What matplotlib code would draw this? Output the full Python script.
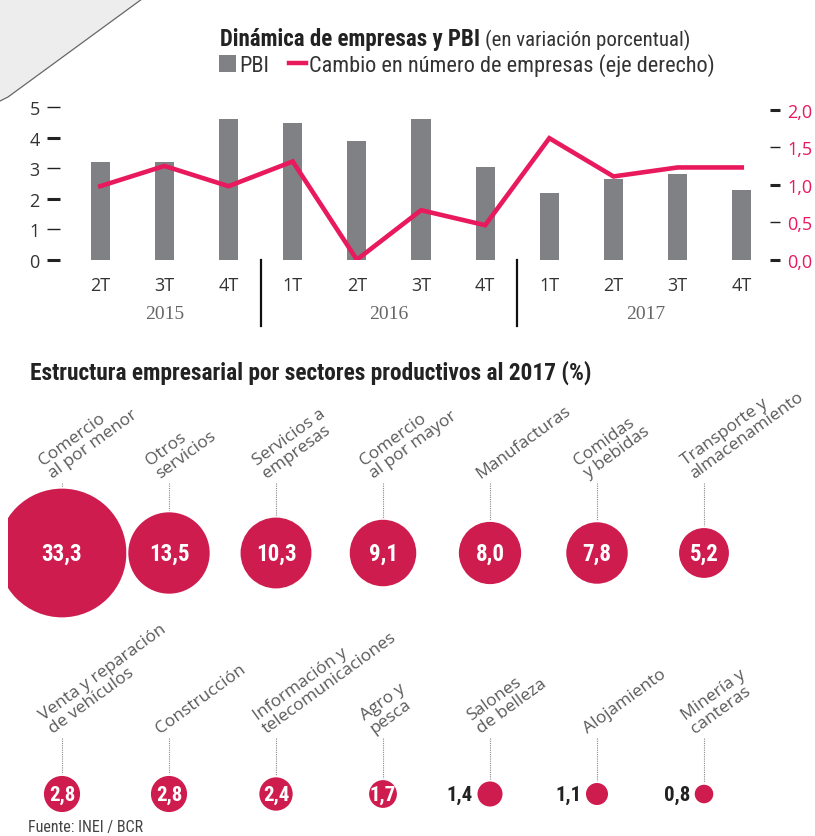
import matplotlib
matplotlib.use('Agg')
import matplotlib.pyplot as plt
from matplotlib import font_manager as fm
from matplotlib.patches import Patch, Polygon
from matplotlib.lines import Line2D
import matplotlib.transforms as mtransforms
import numpy as np

# ---------------- data ----------------
quarters = ['2T', '3T', '4T', '1T', '2T', '3T', '4T', '1T', '2T', '3T', '4T']
years = ['2015', '2016', '2017']
quarters_per_year = [3, 4, 4]
pbi = [3.2, 3.2, 4.6, 4.5, 3.9, 4.6, 3.05, 2.2, 2.65, 2.8, 2.3]
empresas = [0.98, 1.25, 0.98, 1.31, 0.0, 0.66, 0.46, 1.62, 1.11, 1.23, 1.23]
left_ticks = [0, 1, 2, 3, 4, 5]
right_ticks = [0.0, 0.5, 1.0, 1.5, 2.0]

sectors_row1 = ['Comercio\nal por menor', 'Otros\nservicios', 'Servicios a\nempresas',
                'Comercio\nal por mayor', 'Manufacturas', 'Comidas\ny bebidas',
                'Transporte y\nalmacenamiento']
shares_row1 = [33.3, 13.5, 10.3, 9.1, 8.0, 7.8, 5.2]
sectors_row2 = ['Venta y reparación\nde vehículos', 'Construcción',
                'Información y\ntelecomunicaciones', 'Agro y\npesca',
                'Salones\nde belleza', 'Alojamiento', 'Minería y\ncanteras']
shares_row2 = [2.8, 2.8, 2.4, 1.7, 1.4, 1.1, 0.8]

# ---------------- style ----------------
GREY = '#808184'
RED = '#e8195c'
BUB = '#cf1c4f'
names = {f.name for f in fm.fontManager.ttflist}


def pick(*cands):
    for n in cands:
        if n in names:
            return n
    return 'DejaVu Sans'


NARROW = pick('Liberation Sans Narrow', 'Roboto Condensed', 'Open Sans Condensed', 'Roboto')
SANS = pick('Open Sans', 'Noto Sans', 'DejaVu Sans')
SERIF = pick('Liberation Serif', 'DejaVu Serif')

W, H = 815, 837
fig = plt.figure(figsize=(W / 100, H / 100), dpi=100, facecolor='white')


def fx(px):
    return px / W


def fy(py):
    return 1 - py / H


# decorative page corner
fig.add_artist(Polygon([[0, 1], [fx(142), 1], [fx(8), fy(98)], [0, fy(102)]], closed=True,
                       transform=fig.transFigure, facecolor='#ededed', edgecolor='none', zorder=0))
fig.add_artist(Line2D([fx(0), fx(8), fx(142)], [fy(102), fy(98), fy(0)], transform=fig.transFigure,
                      color='#666666', lw=0.9, zorder=0))

# ---------------- top chart ----------------
y0_px, y5_px = 260.7, 108.3
ax = fig.add_axes([fx(70), fy(y0_px), fx(770) - fx(70), (y0_px - y5_px) / H])
x = np.arange(len(quarters))
ax.bar(x, pbi, width=0.3, color=GREY, zorder=2)
ax.set_xlim(-0.472, 10.44)
ax.set_ylim(0, 5)
ax.patch.set_visible(False)
for s in ax.spines.values():
    s.set_visible(False)
ax.spines['left'].set_position(('outward', 7.2))
ax.set_yticks(left_ticks)
ax.set_yticklabels([str(t) for t in left_ticks], fontfamily=SANS, fontsize=13, color='#333333')
ax.tick_params(axis='y', length=9.5, pad=5, color='#222222')
for t, tk in zip(left_ticks, ax.yaxis.get_major_ticks()):
    tk.tick1line.set_markeredgewidth(2.2 if t % 2 == 0 else 1.0)
ax.set_xticks(x)
ax.set_xticklabels(quarters, fontfamily=SANS, fontsize=13, color='#333333')
ax.tick_params(axis='x', length=0, pad=12)

axr = ax.twinx()
axr.plot(x, empresas, color=RED, lw=3.3, solid_joinstyle='miter', zorder=3)
axr.set_ylim(0, 2.0 * (y0_px - y5_px) / (y0_px - 110.7))
for s in axr.spines.values():
    s.set_visible(False)
axr.set_yticks(right_ticks)
axr.set_yticklabels([f'{t:.1f}'.replace('.', ',') for t in right_ticks],
                    fontfamily=SANS, fontsize=13, color=RED)
axr.tick_params(axis='y', length=7.2, pad=5, color='#222222')
for i, tk in enumerate(axr.yaxis.get_major_ticks()):
    tk.tick2line.set_markeredgewidth(2.2 if i % 2 == 0 else 1.0)

# year separators and labels
trans = mtransforms.blended_transform_factory(ax.transData, ax.transAxes)
edges = np.cumsum(quarters_per_year)
starts = np.concatenate([[0], edges[:-1]])
for e in edges[:-1]:
    ax.plot([e - 0.5, e - 0.5], [0, -0.435], transform=trans, color='#111111', lw=1.6, clip_on=False)
for yr, s0, n in zip(years, starts, quarters_per_year):
    ax.text(s0 + (n - 1) / 2, -0.35, yr, transform=trans, ha='center', va='center',
            fontfamily=SERIF, fontsize=14, color='#666666')

# title + legend
t1 = fig.text(fx(220), fy(46), 'Dinámica de empresas y PBI', fontfamily=NARROW, fontweight='bold',
              fontsize=16.5, color='#222222', va='baseline')
fig.canvas.draw()
bb = t1.get_window_extent()
fig.text(bb.x1 / W + fx(5), fy(46), '(en variación porcentual)', fontfamily=NARROW, fontsize=15,
         color='#333333', va='baseline')

handles = [Patch(facecolor=GREY, edgecolor='none'), Line2D([], [], color=RED, lw=3.2)]
leg = fig.legend(handles, ['PBI', 'Cambio en número de empresas (eje derecho)'], loc='center left',
                 bbox_to_anchor=(fx(219), fy(66)), ncol=2, frameon=False, borderaxespad=0,
                 borderpad=0, handlelength=0.75, handleheight=0.8, handletextpad=0.15,
                 columnspacing=0.9, prop={'family': NARROW, 'size': 16})
for txt in leg.get_texts():
    txt.set_color('#333333')

# ---------------- bubbles ----------------
fig.text(fx(30), fy(380), 'Estructura empresarial por sectores productivos al 2017 (%)',
         fontfamily=NARROW, fontweight='bold', fontsize=16.8, color='#222222', va='baseline')

col0_px, col_step = 62, 107
row0_px, row_step = 554, 241
top_px = 382
axb = fig.add_axes([fx(8), 0, 1 - fx(8), fy(top_px)])
axb.set_xlim((8 - col0_px) / col_step, (W - col0_px) / col_step)
axb.set_ylim((H - row0_px) / row_step, (top_px - row0_px) / row_step)
axb.axis('off')

K = 11.3  # px radius per sqrt(value)
leader_top_px = [70, 56]
value_size = [16.5, 15]
rows = [(sectors_row1, shares_row1), (sectors_row2, shares_row2)]
for r, (labels, vals) in enumerate(rows):
    cols = np.arange(len(vals))
    vals = np.array(vals)
    rad_px = K * np.sqrt(vals)
    axb.scatter(cols, np.full(len(vals), r), s=(2 * rad_px * 0.72) ** 2, color=BUB,
                edgecolors='white', linewidths=1.2, zorder=3, clip_on=True)
    ytop = r - leader_top_px[r] / row_step
    for c, lab, v, rp in zip(cols, labels, vals, rad_px):
        axb.plot([c, c], [ytop, r - rp / row_step], color='#8a8a8a', lw=0.8,
                 linestyle=(0, (1, 1)), zorder=2)
        axb.annotate(lab, xy=(c, ytop), xytext=(-5, 1.5), textcoords='offset points',
                     rotation=36, rotation_mode='anchor', ha='left', va='bottom',
                     fontfamily=SANS, fontsize=12.5, color='#5a5a5a', linespacing=1.0)
        txt = f'{v:.1f}'.replace('.', ',')
        if v >= 1.5:
            axb.text(c, r, txt, ha='center', va='center', color='white', fontweight='bold',
                     fontfamily=NARROW, fontsize=value_size[r], zorder=4)
        else:
            axb.annotate(txt, xy=(c, r), xytext=(-(rp + 4) * 0.72, 0), textcoords='offset points',
                         ha='right', va='center', color='#222222', fontweight='bold',
                         fontfamily=NARROW, fontsize=value_size[r])

fig.text(fx(28), fy(828), 'Fuente: INEI / BCR', fontfamily=NARROW, fontsize=11.5,
         color='#444444', va='center')

fig.savefig('out.png', dpi=100, facecolor=fig.get_facecolor())
